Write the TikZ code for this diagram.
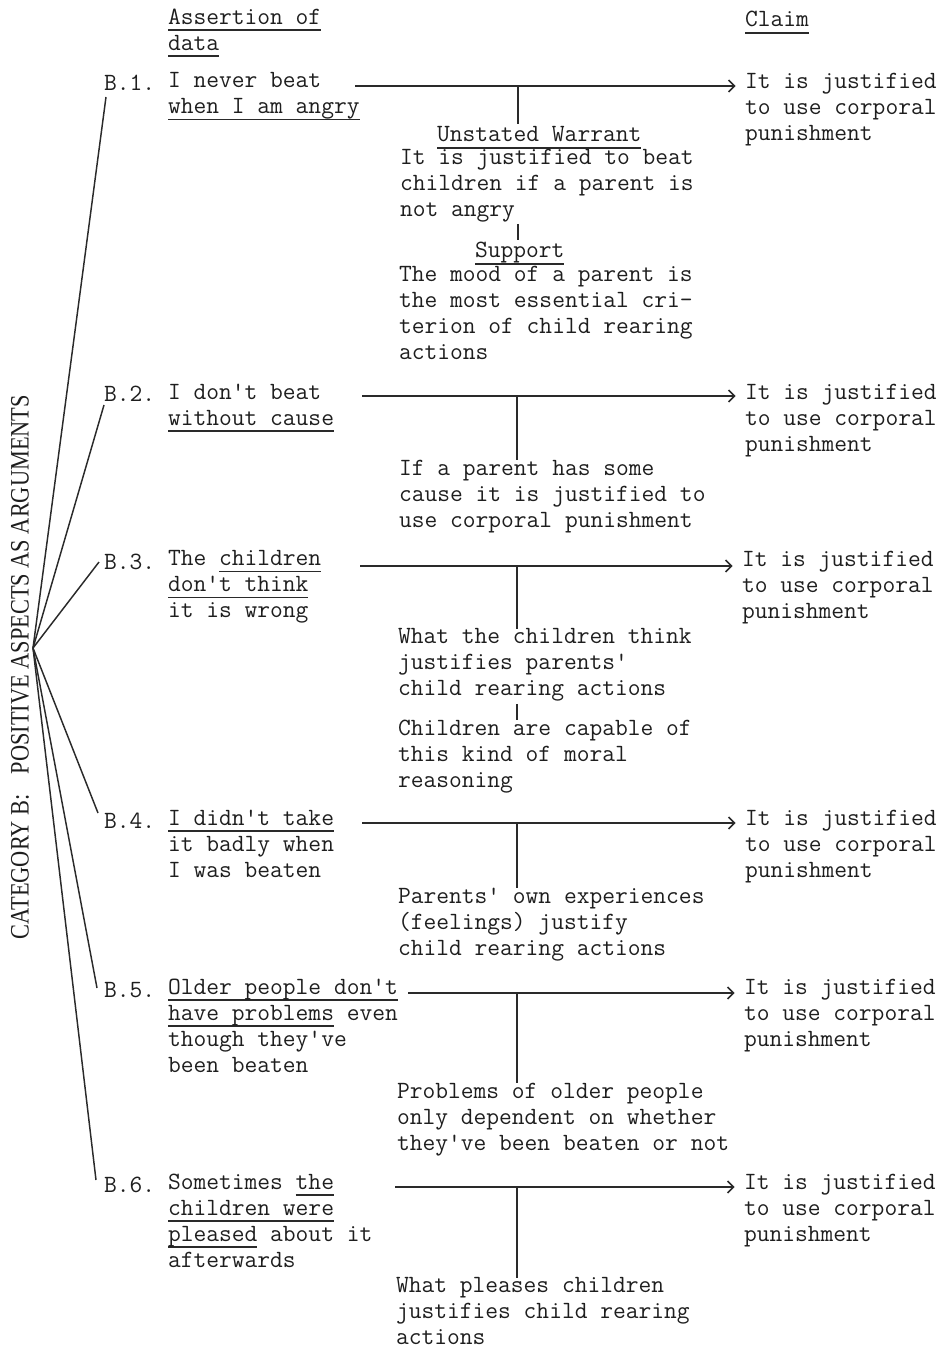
\documentclass[tikz,border=0pt]{standalone}
\usepackage{graphicx}
\usepackage{fontspec}
\usetikzlibrary{arrows.meta,calc}
\newfontfamily\catfont{Liberation Serif}
\newcommand{\twfont}{\fontsize{18.6}{19.5}\selectfont\ttfamily\addfontfeature{FakeBold=0.5}}
\definecolor{ink}{HTML}{1E1E1E}
\definecolor{rule}{HTML}{2A2A2A}
% typewriter-style underline: a rule just below the baseline, as wide as the text
\newsavebox{\ulnbox}
\newcommand{\uln}[1]{\sbox\ulnbox{#1}\rlap{\textcolor{rule}{\rule[-4.9pt]{\wd\ulnbox}{1.1pt}}}\usebox\ulnbox}

\begin{document}
\begin{tikzpicture}[x=0.75pt,y=-0.75pt,
  tw/.style={anchor=north west, inner sep=0pt, outer sep=0pt, align=left,
    font=\twfont, text=ink, yshift=13.65pt,
    execute at begin node=\strut, execute at end node=\strut},
  hubline/.style={draw=rule, line width=1.1pt},
  arr/.style={draw=rule, line width=1.2pt,
    -{Straight Barb[length=4.5pt,width=9pt]}, shorten >=7pt},
  stub/.style={draw=rule, line width=1.2pt}]
\useasboundingbox (0,0) rectangle (949,1351);

% side title and the fan of lines to the six arguments
\node[rotate=90, inner sep=0pt, text=ink, font=\catfont\fontsize{20}{20}\selectfont]
  (cat) at (20,667) {\resizebox{408pt}{13.2pt}{CATEGORY B:\hspace{0.9em}POSITIVE ASPECTS AS ARGUMENTS}};
\coordinate (hub) at (33,648);

% column headings
\node[tw] (ha) at (168,27) {\uln{Assertion of}\\\uln{data}};
\node[tw] (hc) at (745,27) {\uln{Claim}};

% B.1
\node[tw] (l1) at (104,91) {B.1.};
\node[tw] (d1) at (168,91) {I never beat\\\uln{when I am angry}};
\node[tw] (c1) at (745,91) {It is justified\\to use corporal\\punishment};
\node[tw] (wh1) at (437,142) {\uln{Unstated Warrant}};
\node[tw] (w1) at (400,167) {It is justified to beat\\children if a parent is\\not angry};
\node[tw] (sh1) at (475,258) {\uln{Support}};
\node[tw] (s1) at (399,284) {The mood of a parent is\\the most essential cri-\\terion of child rearing\\actions};
\coordinate (a1) at (355,86);
\coordinate (t1) at (518,86);
\draw[arr] (a1) -- (a1 -| c1.west);
\draw[stub] (t1) -- (t1 |- wh1.north);
\draw[stub, line width=1pt] (w1.south -| t1) -- (sh1.north -| t1);

% B.2
\node[tw] (l2) at (104,402) {B.2.};
\node[tw] (d2) at (168,402) {I don't beat\\\uln{without cause}};
\node[tw] (c2) at (745,402) {It is justified\\to use corporal\\punishment};
\node[tw] (w2) at (399,478) {If a parent has some\\cause it is justified to\\use corporal punishment};
\coordinate (a2) at (362,396);
\coordinate (t2) at (517,396);
\draw[arr] (a2) -- (a2 -| c2.west);
\draw[stub] (t2) -- (t2 |- w2.north);

% B.3
\node[tw] (l3) at (104,569) {B.3.};
\node[tw] (d3) at (168,569) {The \uln{children}\\\uln{don't think}\\it is wrong};
\node[tw] (c3) at (742,569) {It is justified\\to use corporal\\punishment};
\node[tw] (w3) at (398,647) {What the children think\\justifies parents'\\child rearing actions};
\node[tw] (s3) at (398,738) {Children are capable of\\this kind of moral\\reasoning};
\coordinate (a3) at (360,566);
\coordinate (t3) at (517,566);
\draw[arr] (a3) -- (a3 -| c3.west);
\draw[stub] (t3) -- (t3 |- w3.north);
\draw[stub, line width=1pt] (w3.south -| t3) -- (s3.north -| t3);

% B.4
\node[tw] (l4) at (104,828) {B.4.};
\node[tw] (d4) at (168,828) {\uln{I didn't take}\\it badly when\\I was beaten};
\node[tw] (c4) at (745,828) {It is justified\\to use corporal\\punishment};
\node[tw] (w4) at (398,906) {Parents' own experiences\\(feelings) justify\\child rearing actions};
\coordinate (a4) at (362,823);
\coordinate (t4) at (517,823);
\draw[arr] (a4) -- (a4 -| c4.west);
\draw[stub] (t4) -- (t4 |- w4.north);

% B.5
\node[tw] (l5) at (104,997) {B.5.};
\node[tw] (d5) at (168,997) {\uln{Older people don't}\\\uln{have problems} even\\though they've\\been beaten};
\node[tw] (c5) at (744,997) {It is justified\\to use corporal\\punishment};
\node[tw] (w5) at (397,1101) {Problems of older people\\only dependent on whether\\they've been beaten or not};
\coordinate (a5) at (408,993);
\coordinate (t5) at (517,993);
\draw[arr] (a5) -- (a5 -| c5.west);
\draw[stub] (t5) -- (t5 |- w5.north);

% B.6
\node[tw] (l6) at (104,1192) {B.6.};
\node[tw] (d6) at (168,1192) {Sometimes \uln{the}\\\uln{children were}\\\uln{pleased} about it\\afterwards};
\node[tw] (c6) at (744,1192) {It is justified\\to use corporal\\punishment};
\node[tw] (w6) at (396,1296) {What pleases children\\justifies child rearing\\actions};
\coordinate (a6) at (395,1187);
\coordinate (t6) at (517,1187);
\draw[arr] (a6) -- (a6 -| c6.west);
\draw[stub] (t6) -- (t6 |- w6.north);

% fan from the title to each argument label
\draw[hubline] (hub) -- ([shift={(2,6)}]l1.base west);
\draw[hubline] (hub) -- ([shift={(0,3)}]l2.base west);
\draw[hubline] (hub) -- ([shift={(-5,-7)}]l3.base west);
\draw[hubline] (hub) -- ([shift={(-6,-15)}]l4.base west);
\draw[hubline] (hub) -- ([shift={(-7,-9)}]l5.base west);
\draw[hubline] (hub) -- ([shift={(-8,-12)}]l6.base west);
\end{tikzpicture}
\end{document}
